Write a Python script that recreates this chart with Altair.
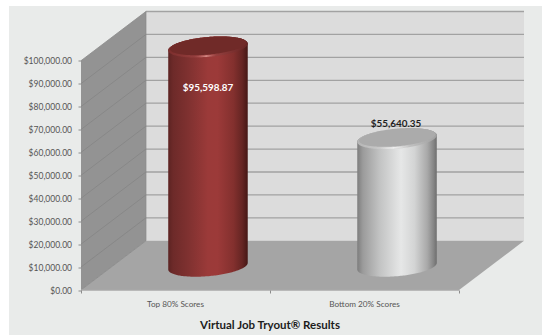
import numpy as np
import pandas as pd
import altair as alt

# Chart values
categories = ["Top 80% Scores", "Bottom 20% Scores"]
values = [95598.87, 55640.35]
value_labels = ["$95,598.87", "$55,640.35"]
y_ticks = [0, 10000, 20000, 30000, 40000, 50000, 60000, 70000, 80000, 90000, 100000]
chart_title = "Virtual Job Tryout® Results"

# Plot-area size and the oblique projection of the box, in scale units
W, H = 443, 278.5
PX_X = 189.25           # pixels per category
PX_Y = 229.3 / 100000   # pixels per dollar
DEPTH_X = 65 / PX_X
DEPTH_Y = 49.2 / PX_Y
BASE_Y = 23.8 / PX_Y    # height of a cylinder's base centre above the front edge
X_MAX = 2 + DEPTH_X
Y_MAX = 100000 + DEPTH_Y

x_scale = alt.Scale(domain=[0, X_MAX], nice=False, zero=False)
y_scale = alt.Scale(domain=[0, Y_MAX], nice=False, zero=False)
FONT = "Lato"

# Dollar scale on the front edge of the side wall, category ticks below the floor
x_axis = alt.Axis(
    values=[0, 1, 2], labels=False, domain=False, grid=False, tickSize=3,
    tickColor="#8c8c8c", title=chart_title, titleFont=FONT, titleFontSize=11.5,
    titleFontWeight="bold", titleColor="#1c1c1c", titleX=188.5, titleY=38,
    titleBaseline="alphabetic", zindex=1,
)
y_axis = alt.Axis(
    values=y_ticks, format="$,.2f", domain=False, grid=False, tickSize=3,
    tickColor="#8c8c8c", labelFont=FONT, labelFontSize=8.5, labelColor="#555555",
    labelPadding=6.5, title=None, zindex=1,
)


def enc_x():
    return alt.X("x:Q", scale=x_scale, axis=x_axis)


def enc_y():
    return alt.Y("y:Q", scale=y_scale, axis=y_axis, stack=None)


def area(xs, ys, y2s, fill, **kw):
    df = pd.DataFrame({"x": xs, "y": ys, "y2": y2s})
    return alt.Chart(df).mark_area(orient="vertical", fill=fill, stroke=None, **kw).encode(
        x=enc_x(), y=enc_y(), y2="y2:Q"
    )


def polyline(xs, ys, color, width, group=None):
    df = pd.DataFrame({"x": xs, "y": ys, "g": group if group is not None else [0] * len(xs)})
    return alt.Chart(df).mark_line(color=color, strokeWidth=width, clip=False).encode(
        x=enc_x(), y=enc_y(), detail="g:N", order="o:Q"
    ).transform_window(o="row_number()", groupby=["g"])


def gradient(stops):
    return alt.LinearGradient(
        gradient="linear", x1=0, x2=1, y1=0, y2=0,
        stops=[alt.GradientStop(offset=o, color=c) for o, c in stops],
    )


def ellipse(cx, cy, a_px, b_px, tilt_px):
    """Upper and lower outline of a tilted ellipse, in scale units."""
    t = np.linspace(0, np.pi, 90)
    u = -np.cos(t)
    xs = cx + u * a_px / PX_X
    mid = cy + (tilt_px * u) / PX_Y
    half = b_px * np.sin(t) / PX_Y
    return xs, mid + half, mid - half


def cylinder(center, value, body, rim_top, top_fill, glow):
    a, b, tilt = 39.8, 10.0, 3.3
    parts = []
    xs, up, low = ellipse(center, BASE_Y + value, a, b, tilt)
    xb, upb, lowb = ellipse(center, BASE_Y, a, b, tilt)
    parts.append(area(xs, up, lowb, gradient(body)))
    parts.append(area(xs, up, low, gradient(rim_top)))
    xi, upi, lowi = ellipse(center + 0.2 / PX_X, BASE_Y + value + 1.2 / PX_Y, a - 1.6, b - 1.2, tilt)
    parts.append(area(xi, upi, lowi, top_fill))
    df = pd.DataFrame({"x": xs[14:76], "y": (low + 1.0 / PX_Y)[14:76]})
    parts.append(
        alt.Chart(df).mark_line(strokeWidth=1.6, stroke=gradient(glow)).encode(x=enc_x(), y=enc_y())
    )
    return parts


# Canvas panel and the three faces of the box
panel = alt.Chart(pd.DataFrame({"a": [0]})).mark_rect(color="#e9ebea").encode(
    x=alt.value(-72), x2=alt.value(461), y=alt.value(-5.5), y2=alt.value(323.5)
)
back_wall = area([DEPTH_X, X_MAX], [Y_MAX, Y_MAX], [DEPTH_Y, DEPTH_Y], "#dcdcdc")
left_wall = area([0, DEPTH_X], [100000, Y_MAX], [0, DEPTH_Y], "#939393")
floor = area([0, DEPTH_X, 2, X_MAX], [0, DEPTH_Y, DEPTH_Y, DEPTH_Y], [0, 0, 0, DEPTH_Y], "#a5a5a5")

# Gridlines: diagonal on the side wall, level on the back wall
grid_values = y_ticks[1:]
back_lines = polyline(
    [v for _ in grid_values for v in (DEPTH_X, X_MAX)],
    [t + DEPTH_Y for t in grid_values for _ in (0, 1)],
    "#a2a2a2", 1.3,
    [t for t in grid_values for _ in (0, 1)],
)
side_lines = polyline(
    [v for _ in grid_values[:-1] for v in (0, DEPTH_X)],
    [t + d for t in grid_values[:-1] for d in (0, DEPTH_Y)],
    "#7f7f7f", 0.6,
    [t for t in grid_values[:-1] for _ in (0, 1)],
)
top_edge = polyline([0, DEPTH_X], [100000, Y_MAX], "#8a8a8a", 0.8)
front_edge = polyline([0, 2], [0, 0], "#a8a8a8", 1.5)
corner_edge = polyline([0, DEPTH_X, DEPTH_X], [0, DEPTH_Y, Y_MAX], "#858585", 0.8)

# Category names under the floor
cat_df = pd.DataFrame({"x": [0.5, 1.5], "y": [0.0, 0.0], "t": categories})
cat_text = alt.Chart(cat_df).mark_text(
    font=FONT, fontSize=8.2, color="#555555", dy=15, baseline="middle"
).encode(x=enc_x(), y=enc_y(), text="t:N")

# Cylinders, centred half a depth back from their category position
red_body = [(0, "#5c2322"), (0.06, "#6d2a29"), (0.25, "#7f3130"), (0.5, "#9b3a39"),
            (0.62, "#9c3a39"), (0.82, "#83302e"), (0.93, "#652523"), (1, "#451715")]
red_rim = [(0, "#7c2e2d"), (0.5, "#a04645"), (1, "#662423")]
red_glow = [(0, "#a8454400"), (0.3, "#b9575600"), (0.48, "#d88d88"), (0.62, "#b9575600"), (1, "#a8454400")]
grey_body = [(0, "#7d7d7d"), (0.07, "#9b9b9b"), (0.28, "#c2c3c3"), (0.55, "#e6e7e7"),
             (0.72, "#d3d4d4"), (0.88, "#a9a9a9"), (0.96, "#858585"), (1, "#6e6e6e")]
grey_rim = [(0, "#b5b5b5"), (0.45, "#d5d5d5"), (1, "#a0a0a0")]
grey_glow = [(0, "#e8e8e800"), (0.25, "#e8e8e800"), (0.45, "#efefef"), (0.68, "#e8e8e800"), (1, "#e8e8e800")]

cyl_1 = cylinder(0.5 + DEPTH_X / 2, values[0], red_body, red_rim, "#702a28", red_glow)
cyl_2 = cylinder(1.5 + DEPTH_X / 2, values[1], grey_body, grey_rim, "#ababab", grey_glow)

# Value labels, placed relative to the top of each cylinder
label_1 = alt.Chart(pd.DataFrame({
    "x": [0.5 + DEPTH_X / 2], "y": [values[0] + BASE_Y], "t": [value_labels[0]]
})).mark_text(font=FONT, fontSize=9.9, fontWeight="bold", color="#ffffff", dy=41, baseline="middle").encode(
    x=enc_x(), y=enc_y(), text="t:N"
)
label_2 = alt.Chart(pd.DataFrame({
    "x": [1.5 + DEPTH_X / 2], "y": [values[1] + BASE_Y], "t": [value_labels[1]]
})).mark_text(font=FONT, fontSize=9.9, fontWeight="bold", color="#1f1f1f", dy=-15, dx=-1, baseline="middle").encode(
    x=enc_x(), y=enc_y(), text="t:N"
)

chart = alt.layer(
    panel, back_wall, left_wall, floor, back_lines, side_lines, top_edge, corner_edge, front_edge,
    cat_text, *cyl_1, *cyl_2, label_1, label_2,
).properties(
    width=W, height=H,
    padding={"left": 81, "top": 11.5, "right": 18, "bottom": 45},
    autosize=alt.AutoSizeParams(type="none"),
    background="#ffffff",
).configure_view(stroke=None)

chart.save("out.html", embed_options={"renderer": "svg", "actions": False})
